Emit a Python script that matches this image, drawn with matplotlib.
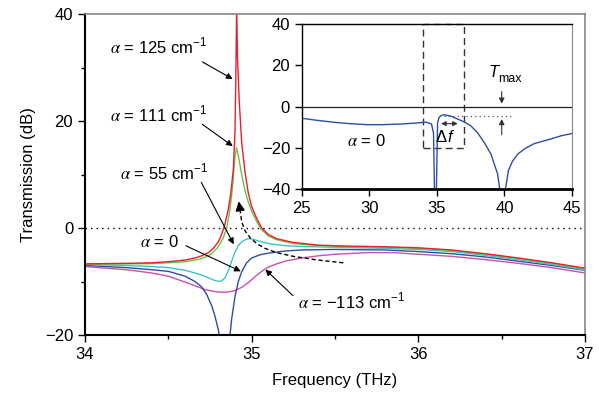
# transmission spectra for different gain/loss alpha, with alpha=0 wide-range inset

import matplotlib
matplotlib.use("Agg")
import matplotlib.pyplot as plt
from matplotlib.patches import Rectangle

plt.rcParams['font.family'] = ['Liberation Sans Narrow', 'Liberation Sans', 'DejaVu Sans']
plt.rcParams['mathtext.fontset'] = 'stix'
plt.rcParams['font.size'] = 12

# --- main plot data ---
f_red = [34.0, 34.25, 34.4, 34.5, 34.6, 34.66, 34.7, 34.74, 34.77, 34.8, 34.82, 34.84,
         34.86, 34.875, 34.89, 34.9, 34.905, 34.91, 34.915, 34.925, 34.94, 34.96, 34.98,
         35.0, 35.03, 35.06, 35.1, 35.15, 35.25, 35.4, 35.6, 35.8, 36.0, 36.2, 36.4, 36.6,
         36.8, 37.0]
t_red = [-6.7, -6.6, -6.5, -6.3, -6.0, -5.6, -5.2, -4.6, -3.8, -2.6, -1.2, 0.8,
         3.5, 6.5, 11, 18, 28, 42, 32, 24, 16, 10.5, 6.5,
         4.0, 1.8, 0.0, -1.2, -2.0, -2.7, -3.2, -3.4, -3.5, -3.7, -4.1, -4.8, -5.6,
         -6.5, -7.5]

f_green = [34.0, 34.25, 34.4, 34.5, 34.6, 34.66, 34.7, 34.74, 34.77, 34.8, 34.83, 34.85,
           34.87, 34.885, 34.9, 34.91, 34.92, 34.94, 34.96, 34.98, 35.0, 35.03, 35.06,
           35.1, 35.15, 35.25, 35.4, 35.6, 35.8, 36.0, 36.2, 36.4, 36.6, 36.8, 37.0]
t_green = [-6.8, -6.7, -6.65, -6.5, -6.3, -6.0, -5.7, -5.2, -4.5, -3.5, -1.8, 0.0,
           3.5, 7.5, 13.5, 15.0, 13.5, 10.0, 7.0, 4.8, 3.2, 1.2, -0.3,
           -1.5, -2.2, -2.9, -3.3, -3.5, -3.6, -3.8, -4.2, -4.9, -5.7, -6.6, -7.6]

f_cyan = [34.0, 34.25, 34.4, 34.5, 34.6, 34.66, 34.7, 34.74, 34.77, 34.8, 34.82, 34.84,
          34.86, 34.88, 34.9, 34.92, 34.94, 34.96, 34.98, 35.0, 35.03, 35.07, 35.12, 35.2,
          35.3, 35.5, 35.8, 36.0, 36.2, 36.4, 36.6, 36.8, 37.0]
t_cyan = [-6.8, -7.0, -7.2, -7.4, -7.9, -8.4, -8.8, -9.3, -9.7, -9.95, -9.9, -9.3,
          -8.0, -6.2, -4.5, -3.3, -2.6, -2.2, -2.0, -2.05, -2.3, -2.7, -3.0, -3.3,
          -3.45, -3.6, -3.8, -4.0, -4.4, -5.1, -5.9, -6.8, -7.8]

f_blue = [34.0, 34.25, 34.4, 34.5, 34.6, 34.66, 34.7, 34.73, 34.76, 34.78, 34.8, 34.82,
          34.84, 34.86, 34.88, 34.9, 34.92, 34.94, 34.97, 35.0, 35.05, 35.1, 35.2, 35.3,
          35.5, 35.8, 36.0, 36.2, 36.4, 36.6, 36.8, 37.0]
t_blue = [-7.0, -7.4, -7.8, -8.1, -9.0, -10.0, -11.0, -12.4, -14.5, -16.5, -19.0, -23,
          -30, -23, -17, -12.8, -10.0, -8.2, -6.5, -5.6, -5.0, -4.7, -4.3, -4.1,
          -4.0, -4.1, -4.4, -4.8, -5.4, -6.2, -7.0, -7.9]

f_mag = [34.0, 34.25, 34.4, 34.5, 34.6, 34.66, 34.72, 34.78, 34.82, 34.86, 34.9, 34.94,
         34.98, 35.02, 35.06, 35.1, 35.15, 35.2, 35.3, 35.4, 35.5, 35.7, 35.85, 36.0,
         36.2, 36.4, 36.6, 36.8, 37.0]
t_mag = [-7.2, -7.8, -8.4, -9.0, -10.1, -10.8, -11.5, -11.9, -12.0, -11.95, -11.7, -11.1,
         -10.2, -9.1, -8.1, -7.3, -6.7, -6.2, -5.6, -5.2, -4.9, -4.6, -4.6, -4.9,
         -5.3, -5.9, -6.6, -7.4, -8.4]

# dashed trajectory of the transmission maximum
f_traj = [35.55, 35.4, 35.25, 35.15, 35.08, 35.03, 34.99, 34.96, 34.94, 34.93]
t_traj = [-6.5, -6.0, -5.3, -4.6, -3.8, -2.9, -1.8, -0.5, 1.2, 3.5]

# --- inset data, alpha = 0 over wide range ---
f_wide = [25, 26, 27.3, 28.5, 29.8, 31, 32.3, 33.5, 34.2, 34.6, 34.75, 34.83, 34.95, 35.05,
          35.15, 35.3, 35.5, 36.0, 36.5, 37.0, 37.5, 38.0, 38.5, 39.0, 39.5, 39.75, 39.95,
          40.3, 40.6, 41.0, 41.5, 42.2, 43.4, 44.2, 45.2]
t_wide = [-5.7, -6.6, -7.6, -8.3, -8.8, -8.8, -8.5, -8.0, -7.6, -8.5, -13, -45, -45, -8.0,
          -5.4, -4.4, -4.0, -4.6, -6.0, -7.4, -9.3, -12.6, -17.4, -23, -32.8, -45, -45,
          -31, -26.5, -23, -20.5, -18, -15.8, -14.2, -12.8]
t_max = -4.7

colors = {"red": "#e8202a", "green": "#72c04c", "cyan": "#3cc3c8",
          "blue": "#2c4fa6", "mag": "#c850ae"}

fig = plt.figure(figsize=(5.99, 3.96), dpi=100)
ax = fig.add_axes([0.1419, 0.154, 0.8347, 0.8106])

ax.plot(f_mag, t_mag, color=colors["mag"], lw=1)
ax.plot(f_blue, t_blue, color=colors["blue"], lw=1)
ax.plot(f_cyan, t_cyan, color=colors["cyan"], lw=1)
ax.plot(f_green, t_green, color=colors["green"], lw=1)
ax.plot(f_red, t_red, color=colors["red"], lw=1)
ax.axhline(0, color="black", ls=(0, (1, 3)), lw=1)

ax.plot(f_traj, t_traj, color="black", ls=(0, (3, 2)), lw=1)
ax.annotate("", xy=(34.92, 5.5), xytext=(f_traj[-1], t_traj[-1]),
            arrowprops=dict(arrowstyle="-|>", color="black", lw=1, mutation_scale=14))

ax.set_xlim(34, 37)
ax.set_ylim(-20, 40)
ax.set_xticks([34, 35, 36, 37])
ax.set_xticks([34.5, 35.5, 36.5], minor=True)
ax.set_yticks([-20, 0, 20, 40])
ax.set_yticklabels(["\u221220", "0", "20", "40"])
ax.set_yticks([-10, 10, 30], minor=True)
ax.tick_params(direction="out", length=5, width=1, labelsize=12)
ax.tick_params(which="minor", direction="out", length=3, width=1)
ax.set_xlabel("Frequency (THz)", fontsize=12, labelpad=8)
ax.set_ylabel("Transmission (dB)", fontsize=12, labelpad=6)
for s in ["left", "bottom"]:
    ax.spines[s].set_linewidth(1.5)
for s in ["top", "right"]:
    ax.spines[s].set_color("#888888")
    ax.spines[s].set_linewidth(1.2)

# labels with arrows
sup = r"$^{\mathregular{-1}}$"
arrow = dict(arrowstyle="-|>", color="black", lw=0.8, mutation_scale=9)
ax.text(34.15, 33.9, r"$\alpha$ = 125 cm" + sup, ha="left", va="center", fontsize=12)
ax.annotate("", xy=(34.9, 27.6), xytext=(34.69, 31.3), arrowprops=arrow)
ax.text(34.15, 21.2, r"$\alpha$ = 111 cm" + sup, ha="left", va="center", fontsize=12)
ax.annotate("", xy=(34.9, 15), xytext=(34.69, 19.7), arrowprops=arrow)
ax.text(34.21, 10.4, r"$\alpha$ = 55 cm" + sup, ha="left", va="center", fontsize=12)
ax.annotate("", xy=(34.9, -3.5), xytext=(34.69, 9.0), arrowprops=arrow)
ax.text(34.33, -2.7, r"$\alpha$ = 0", ha="left", va="center", fontsize=12)
ax.annotate("", xy=(34.95, -8.3), xytext=(34.59, -3.1), arrowprops=arrow)
ax.text(35.28, -13.8, r"$\alpha$ = " + "\u2212113 cm" + sup, ha="left", va="center", fontsize=12)
ax.annotate("", xy=(35.07, -7.4), xytext=(35.26, -13.0), arrowprops=arrow)

# --- inset ---
ins = fig.add_axes([0.504, 0.5227, 0.4508, 0.4167])
ins.plot(f_wide, t_wide, color=colors["blue"], lw=1)
ins.axhline(0, color="#222222", lw=0.9)
x0, x1 = ax.get_xlim()
y0, y1 = ax.get_ylim()
ins.add_patch(Rectangle((x0, y0), x1 - x0, y1 - y0, fill=False, ec="#333333",
                        ls=(0, (5, 3)), lw=1, clip_on=False))
ins.plot([35.5, 40.6], [t_max, t_max], color="#555555", ls=(0, (1, 2.5)), lw=0.9)
ins.annotate("", xy=(39.8, 0), xytext=(39.8, 8.6),
             arrowprops=dict(arrowstyle="-|>", color="#333333", lw=0.8, mutation_scale=8))
ins.annotate("", xy=(39.8, t_max), xytext=(39.8, -15),
             arrowprops=dict(arrowstyle="-|>", color="#333333", lw=0.8, mutation_scale=8))
ins.text(39.55, 16.5, "T", style="italic", fontsize=12, ha="right", va="center")
ins.text(39.55, 13.5, "max", fontsize=9, ha="left", va="center")
ins.annotate("", xy=(35.1, -8.3), xytext=(36.75, -8.3),
             arrowprops=dict(arrowstyle="<|-|>", color="#333333", lw=0.8, mutation_scale=7))
ins.text(35.75, -15, "\u0394", fontsize=12, ha="right", va="center")
ins.text(35.8, -15, "f", style="italic", fontsize=12, ha="left", va="center")
ins.text(29.8, -16.6, r"$\alpha$ = 0", fontsize=12, ha="center", va="center")

ins.set_xlim(25, 45)
ins.set_ylim(-40, 40)
ins.set_xticks([25, 30, 35, 40, 45])
ins.set_yticks([-40, -20, 0, 20, 40])
ins.set_yticklabels(["\u221240", "\u221220", "0", "20", "40"])
ins.tick_params(direction="out", length=5, width=1, labelsize=12)
ins.spines["bottom"].set_linewidth(2)
ins.spines["left"].set_linewidth(1)
ins.spines["top"].set_linewidth(1)
ins.spines["right"].set_color("#888888")

fig.savefig("out.png", dpi=100)
